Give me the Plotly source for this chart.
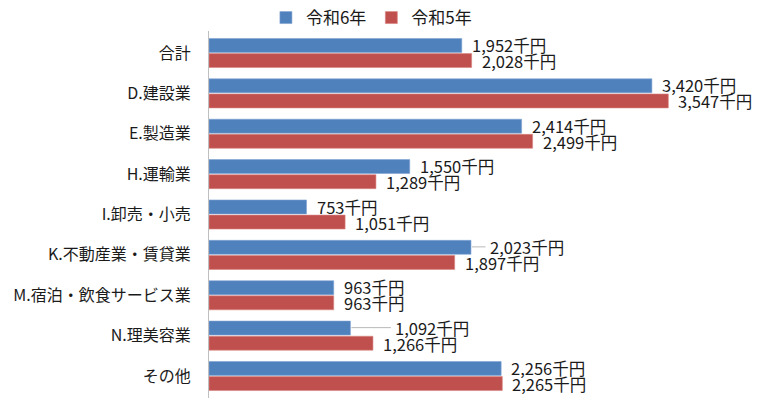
import plotly.graph_objects as go

categories = ["合計", "D.建設業", "E.製造業", "H.運輸業", "I.卸売・小売",
              "K.不動産業・賃貸業", "M.宿泊・飲食サービス業", "N.理美容業", "その他"]
r6 = [1952, 3420, 2414, 1550, 753, 2023, 963, 1092, 2256]
r5 = [2028, 3547, 2499, 1289, 1051, 1897, 963, 1266, 2265]
series_names = ["令和6年", "令和5年"]
unit = "千円"

BLUE = "#4F81BD"
RED = "#C0504D"
FONT = "Noto Sans CJK JP"

fig = go.Figure()
fig.add_trace(go.Bar(y=categories, x=r6, name=series_names[0], orientation="h",
                     marker=dict(color=BLUE, line=dict(color="#7FA3D3", width=0.6))))
fig.add_trace(go.Bar(y=categories, x=r5, name=series_names[1], orientation="h",
                     marker=dict(color=RED, line=dict(color="#D88481", width=0.6))))

# data labels (annotations placed at each bar's value)
nudge = {("K.不動産業・賃貸業", 0): 9, ("N.理美容業", 0): 35}
for si, vals in enumerate([r6, r5]):
    ysh = 8 if si == 0 else -8
    for c, v in zip(categories, vals):
        extra = nudge.get((c, si), 0)
        fig.add_annotation(x=v, y=c, xref="x", yref="y", text=f"{v:,}{unit}",
                           showarrow=False, xanchor="left", yanchor="middle",
                           xshift=8 + extra, yshift=ysh,
                           font=dict(family=FONT, size=16.5, color="#1a1a1a"))
        if extra:
            fig.add_annotation(x=v, y=c, xref="x", yref="y", ax=extra + 6, ay=0,
                               axref="pixel", ayref="pixel", text="",
                               showarrow=True, arrowhead=0, arrowwidth=0.8,
                               arrowcolor="#A6A6A6", yshift=ysh, xshift=1,
                               standoff=0, startstandoff=0)

fig.update_layout(
    width=758, height=398,
    margin=dict(l=209, r=31, t=31, b=0, autoexpand=False),
    paper_bgcolor="white", plot_bgcolor="white",
    barmode="group", bargap=0.25, bargroupgap=0.08,
    font=dict(family=FONT, size=16, color="#1a1a1a"),
    showlegend=True,
    legend=dict(orientation="h", x=0.49, xref="container", xanchor="center",
                y=1.0, yref="container", yanchor="top",
                font=dict(family=FONT, size=17),
                traceorder="normal", itemwidth=30,
                bgcolor="rgba(0,0,0,0)"),
    xaxis=dict(range=[0, 4000], visible=False, showgrid=False),
    yaxis=dict(autorange="reversed", showline=True, linecolor="#BFBFBF",
               linewidth=1, ticks="", ticklabelstandoff=14, automargin=False,
               tickfont=dict(family=FONT, size=16, color="#1a1a1a"),
               showgrid=False),
)

fig.write_html("out.html")
